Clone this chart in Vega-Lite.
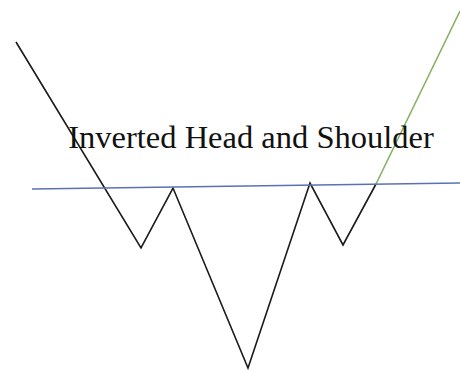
{
  "$schema": "https://vega.github.io/schema/vega-lite/v6.json",
  "width": 460,
  "height": 370,
  "padding": 0,
  "autosize": {"type": "none"},
  "background": "white",
  "config": {"view": {"stroke": null}},
  "datasets": {
    "lines": [
      {"series": "price", "order": 1, "x": 16, "y": 42},
      {"series": "price", "order": 2, "x": 141, "y": 248},
      {"series": "price", "order": 3, "x": 173, "y": 188},
      {"series": "price", "order": 4, "x": 248, "y": 368},
      {"series": "price", "order": 5, "x": 310, "y": 183},
      {"series": "price", "order": 6, "x": 343, "y": 245},
      {"series": "price", "order": 7, "x": 376, "y": 184},
      {"series": "breakout", "order": 1, "x": 376, "y": 184},
      {"series": "breakout", "order": 2, "x": 460, "y": 11},
      {"series": "neckline", "order": 1, "x": 32, "y": 189},
      {"series": "neckline", "order": 2, "x": 460, "y": 183}
    ],
    "labels": [
      {"label": "Inverted Head and Shoulder", "x": 251, "y": 148}
    ]
  },
  "layer": [
    {
      "data": {"name": "lines"},
      "mark": {"type": "line", "strokeWidth": 1.6},
      "encoding": {
        "x": {"field": "x", "type": "quantitative", "scale": {"domain": [0, 460], "nice": false, "zero": false}, "axis": null},
        "y": {"field": "y", "type": "quantitative", "scale": {"domain": [0, 370], "nice": false, "zero": false, "reverse": true}, "axis": null},
        "detail": {"field": "series"},
        "order": {"field": "order"},
        "color": {
          "field": "series",
          "type": "nominal",
          "scale": {"domain": ["price", "breakout", "neckline"], "range": ["#1a1a1a", "#86b063", "#5a72b0"]},
          "legend": null
        }
      }
    },
    {
      "data": {"name": "labels"},
      "mark": {"type": "text", "font": "Liberation Serif", "fontSize": 32.5, "align": "center", "baseline": "alphabetic", "color": "#111111"},
      "encoding": {
        "x": {"field": "x", "type": "quantitative"},
        "y": {"field": "y", "type": "quantitative"},
        "text": {"field": "label"}
      }
    }
  ]
}
